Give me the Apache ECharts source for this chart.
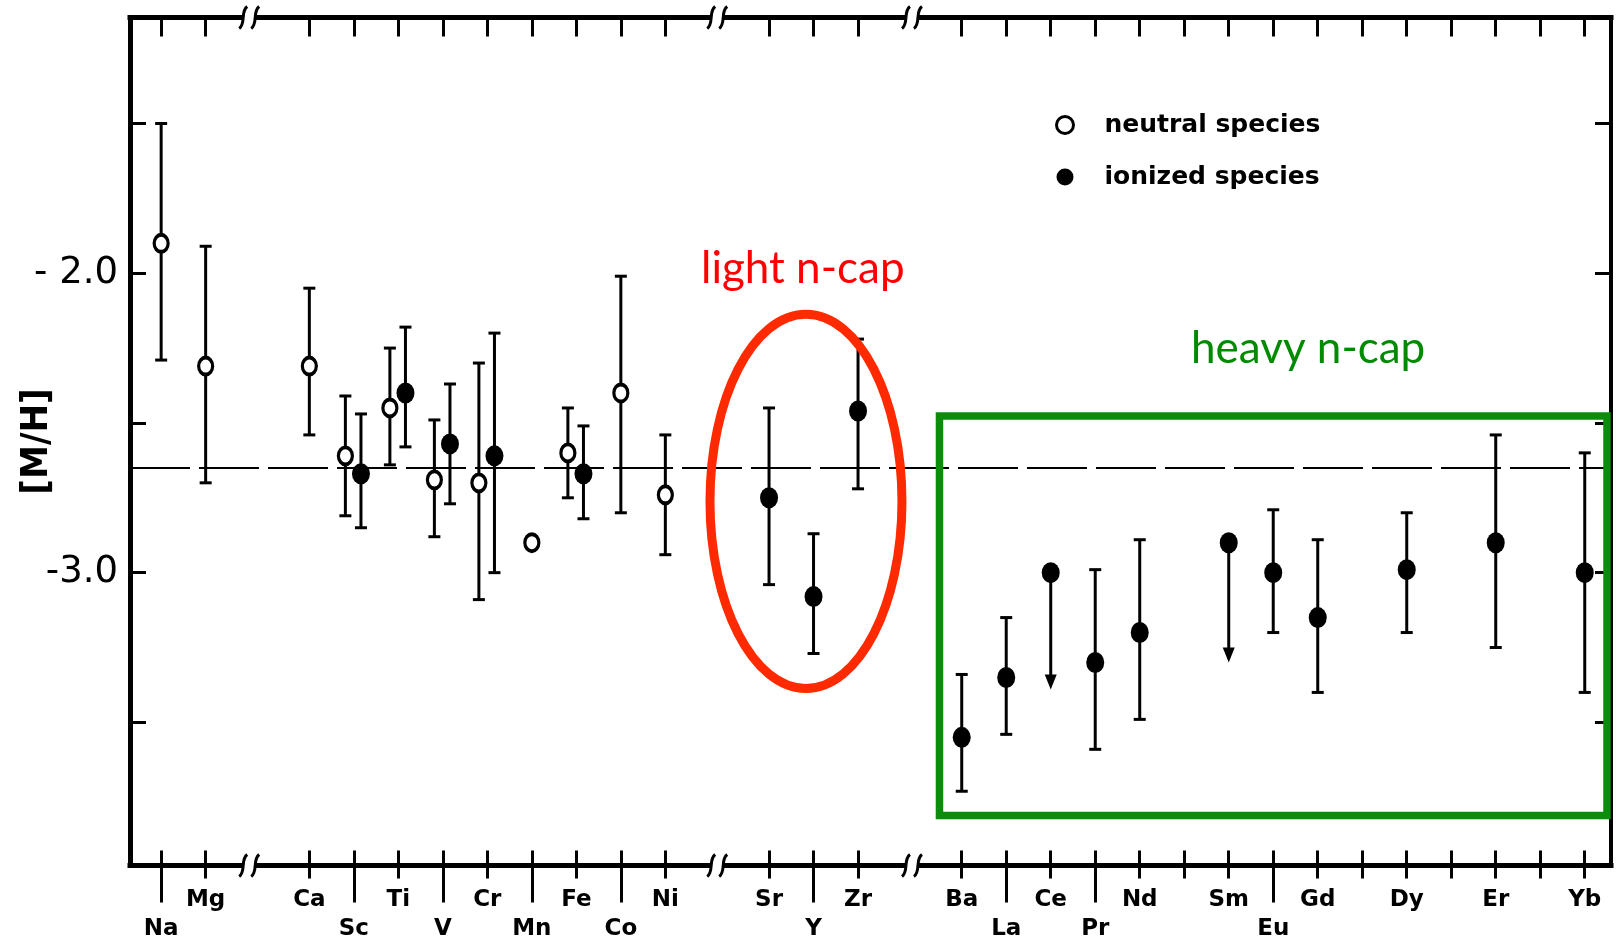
<!DOCTYPE html>
<html>
<head>
<meta charset="utf-8">
<script src="https://cdn.jsdelivr.net/npm/echarts@6/dist/echarts.min.js"></script>
<style>
html,body{margin:0;padding:0;background:#fff;}
#chart{width:1619px;height:943px;}
</style>
</head>
<body>
<div id="chart"></div>
<script>
// ---------------- DATA ----------------
const atomicNumbers = {Na:11, Mg:12, Ca:20, Sc:21, Ti:22, V:23, Cr:24, Mn:25, Fe:26, Co:27, Ni:28,
  Sr:38, Y:39, Zr:40, Ba:56, La:57, Ce:58, Pr:59, Nd:60, Sm:62, Eu:63, Gd:64, Dy:66, Er:68, Yb:70};
// element ranges shown on the broken x axis (atomic number)
const axisSegments = [[11, 12], [20, 28], [38, 40], [56, 70]];

// tick labels: upper row and lower row
const tickLabelsUpper = ['Mg','Ca','Ti','Cr','Fe','Ni','Sr','Zr','Ba','Ce','Nd','Sm','Gd','Dy','Er','Yb'];
const tickLabelsLower = ['Na','Sc','V','Mn','Co','Y','La','Pr','Eu'];

// neutral species  [M/H] with error bar limits
const neutralSpecies = ['Na','Mg','Ca','Sc','Ti','V','Cr','Mn','Fe','Co','Ni'];
const neutralValues  = [-1.90,-2.31,-2.31,-2.61,-2.45,-2.69,-2.70,-2.90,-2.60,-2.40,-2.74];
const neutralLow     = [-2.29,-2.70,-2.54,-2.81,-2.64,-2.88,-3.09, null,-2.75,-2.80,-2.94];
const neutralHigh    = [-1.50,-1.91,-2.05,-2.41,-2.25,-2.49,-2.30, null,-2.45,-2.01,-2.54];

// ionized species
const ionizedSpecies = ['Sc','Ti','V','Cr','Fe','Sr','Y','Zr','Ba','La','Ce','Pr','Nd','Sm','Eu','Gd','Dy','Er','Yb'];
const ionizedValues  = [-2.67,-2.40,-2.57,-2.61,-2.67,-2.75,-3.08,-2.46,-3.55,-3.35,-3.00,-3.30,-3.20,-2.90,-3.00,-3.15,-2.99,-2.90,-3.00];
const ionizedLow     = [-2.85,-2.58,-2.77,-3.00,-2.82,-3.04,-3.27,-2.72,-3.73,-3.54,-3.39,-3.59,-3.49,-3.30,-3.20,-3.40,-3.20,-3.25,-3.40];
const ionizedHigh    = [-2.47,-2.18,-2.37,-2.20,-2.51,-2.45,-2.87,-2.22,-3.34,-3.15, null,-2.99,-2.89, null,-2.79,-2.89,-2.80,-2.54,-2.60];
const ionizedUpperLimit = ['Ce','Sm'];   // plotted as upper limits (arrows)

const referenceLevel = -2.65;
const yTickValues  = [-3.5, -3.0, -2.5, -2.0, -1.5];
const yLabelValues = [-3.0, -2.0];
const yLabelText   = {'-3': '-3.0', '-2': '- 2.0'};

// ---------------- AXIS MAPPING (broken axis) ----------------
const BREAK_SLOTS = 2.33;            // width of each axis break, in element slots
const BREAK_FRACTION = [0.42, 0.5, 0.52];
const X_MIN = -0.7, X_MAX = 32.58, Y_MIN = -3.978, Y_MAX = -1.146;
const PAIR_SHIFT_NEUTRAL = -0.19, PAIR_SHIFT_IONIZED = 0.16;

function slotOf(z) {
  let s = 0;
  for (const [a, b] of axisSegments) {
    if (z >= a && z <= b) return s + (z - a);
    s += (b - a) + BREAK_SLOTS;
  }
  return NaN;
}
const allTickSlots = [];
axisSegments.forEach(([a, b]) => { for (let z = a; z <= b; z++) allTickSlots.push(slotOf(z)); });
const breakSlots = [];
{
  let s = 0;
  axisSegments.forEach(([a, b], i) => {
    s += (b - a);
    if (i < axisSegments.length - 1) { breakSlots.push(s + BREAK_FRACTION[i] * BREAK_SLOTS); s += BREAK_SLOTS; }
  });
}
const slotLabel = {};
Object.keys(atomicNumbers).forEach(k => { slotLabel[slotOf(atomicNumbers[k]).toFixed(3)] = k; });
const upperSlots = tickLabelsUpper.map(s => slotOf(atomicNumbers[s]));
const lowerSlots = tickLabelsLower.map(s => slotOf(atomicNumbers[s]));

function xFor(sp, shift) {
  const paired = neutralSpecies.includes(sp) && ionizedSpecies.includes(sp);
  return slotOf(atomicNumbers[sp]) + (paired ? shift : 0);
}
const neutralPoints = neutralSpecies.map((sp, i) => [xFor(sp, PAIR_SHIFT_NEUTRAL), neutralValues[i]]);
const ionizedPoints = ionizedSpecies.map((sp, i) => [xFor(sp, PAIR_SHIFT_IONIZED), ionizedValues[i]]);
const errorData = [];
neutralSpecies.forEach((sp, i) => {
  if (neutralLow[i] !== null) errorData.push([xFor(sp, PAIR_SHIFT_NEUTRAL), neutralValues[i], neutralLow[i], neutralHigh[i], 0]);
});
ionizedSpecies.forEach((sp, i) => {
  const lim = ionizedUpperLimit.includes(sp) ? 1 : 0;
  errorData.push([xFor(sp, PAIR_SHIFT_IONIZED), ionizedValues[i], ionizedLow[i], lim ? ionizedLow[i] : ionizedHigh[i], lim]);
});

// ---------------- CHART ----------------
const chart = echarts.init(document.getElementById('chart'));
const FONT = 'DejaVu Sans';
const axisLineStyle = {color: '#000', width: 5, cap: 'square'};
const tickStyle = {color: '#000', width: 3};
const baseX = {type: 'value', min: X_MIN, max: X_MAX, gridIndex: 0, splitLine: {show: false}, axisLine: {onZero: false, show: false}};

const option = {
  animation: false,
  backgroundColor: '#fff',
  grid: {left: 130, right: 8, top: 17.5, bottom: 77.5, containLabel: false, outerBoundsMode: 'none'},
  legend: {
    orient: 'vertical', left: 1050, top: 106, itemWidth: 17, itemHeight: 20, itemGap: 24,
    selectedMode: false,
    textStyle: {fontFamily: FONT, fontWeight: 'bold', fontSize: 25, color: '#000', lineHeight: 28, padding: [0, 0, 0, 26]},
    data: [
      {name: 'neutral species', icon: 'circle', itemStyle: {color: '#fff', borderColor: '#000', borderWidth: 3}},
      {name: 'ionized species', icon: 'circle', itemStyle: {color: '#000', borderWidth: 0}}
    ]
  },
  xAxis: [
    Object.assign({}, baseX, {
      position: 'bottom',
      axisLine: {show: true, onZero: false, lineStyle: axisLineStyle},
      axisTick: {show: true, inside: false, length: 13, lineStyle: tickStyle, customValues: allTickSlots},
      axisLabel: {show: true, customValues: upperSlots, margin: 23, fontFamily: FONT, fontWeight: 'bold', fontSize: 23, color: '#000', lineHeight: 24,
        formatter: v => slotLabel[Number(v).toFixed(3)] || ''}
    }),
    Object.assign({}, baseX, {
      position: 'bottom',
      axisTick: {show: true, inside: true, length: 15, lineStyle: tickStyle, customValues: allTickSlots},
      axisLabel: {show: false}
    }),
    Object.assign({}, baseX, {
      position: 'bottom',
      axisTick: {show: true, inside: false, length: 37, lineStyle: tickStyle, customValues: lowerSlots},
      axisLabel: {show: true, customValues: lowerSlots, margin: 52, fontFamily: FONT, fontWeight: 'bold', fontSize: 23, color: '#000', lineHeight: 24,
        formatter: v => slotLabel[Number(v).toFixed(3)] || ''}
    }),
    Object.assign({}, baseX, {
      position: 'top',
      axisLine: {show: true, onZero: false, lineStyle: axisLineStyle},
      axisTick: {show: true, inside: true, length: 19, lineStyle: tickStyle, customValues: allTickSlots},
      axisLabel: {show: false}
    })
  ],
  yAxis: [
    {
      type: 'value', min: Y_MIN, max: Y_MAX, position: 'left', splitLine: {show: false},
      name: '[M/H]', nameLocation: 'middle', nameRotate: 90, nameGap: 74, nameMoveOverlap: false,
      nameTextStyle: {fontFamily: "'DejaVu Sans Condensed', 'DejaVu Sans'", fontWeight: 'bold', fontSize: 38, color: '#000'},
      axisLine: {show: true, onZero: false, lineStyle: axisLineStyle},
      axisTick: {show: true, inside: true, length: 16, lineStyle: tickStyle, customValues: yTickValues},
      axisLabel: {show: true, customValues: yLabelValues, margin: 12, fontFamily: FONT, fontSize: 37, color: '#000',
        formatter: v => yLabelText[String(Math.round(v))] || ''}
    },
    {
      type: 'value', min: Y_MIN, max: Y_MAX, position: 'right', splitLine: {show: false},
      axisLine: {show: true, onZero: false, lineStyle: {color: '#000', width: 4, cap: 'square'}},
      axisTick: {show: true, inside: true, length: 16, lineStyle: tickStyle, customValues: yTickValues},
      axisLabel: {show: false}
    }
  ],
  series: [
    {
      name: 'error bars', type: 'custom', xAxisIndex: 0, yAxisIndex: 0, z: 1, silent: true,
      data: errorData,
      renderItem: (params, api) => {
        const x = api.value(0), v = api.value(1), lo = api.value(2), hi = api.value(3), lim = api.value(4);
        const p = api.coord([x, v]);
        const st = {stroke: '#000', lineWidth: 3};
        const ch = [];
        if (lim) {
          const t = api.coord([x, lo]);
          ch.push({type: 'line', shape: {x1: p[0], y1: p[1], x2: p[0], y2: t[1] - 8}, style: st});
          ch.push({type: 'polygon', shape: {points: [[p[0] - 6, t[1] - 15], [p[0] + 6, t[1] - 15], [p[0], t[1]]]}, style: {fill: '#000'}});
        } else {
          const a = api.coord([x, lo]), b = api.coord([x, hi]);
          ch.push({type: 'line', shape: {x1: a[0], y1: a[1], x2: b[0], y2: b[1]}, style: st});
          ch.push({type: 'line', shape: {x1: a[0] - 6, y1: a[1], x2: a[0] + 6, y2: a[1]}, style: st});
          ch.push({type: 'line', shape: {x1: b[0] - 6, y1: b[1], x2: b[0] + 6, y2: b[1]}, style: st});
        }
        return {type: 'group', children: ch};
      }
    },
    {
      name: 'neutral species', type: 'scatter', xAxisIndex: 0, yAxisIndex: 0, z: 3,
      symbol: 'circle', symbolSize: [14, 17],
      itemStyle: {color: '#fff', borderColor: '#000', borderWidth: 3.5, opacity: 1},
      data: neutralPoints,
      markLine: {
        silent: true, symbol: ['none', 'none'], label: {show: false}, z: 0,
        lineStyle: {color: '#000', width: 2, type: [60, 9]},
        data: [{yAxis: referenceLevel}]
      }
    },
    {
      name: 'ionized species', type: 'scatter', xAxisIndex: 0, yAxisIndex: 0, z: 3,
      symbol: 'circle', symbolSize: [18, 21],
      itemStyle: {color: '#000', opacity: 1},
      data: ionizedPoints
    }
  ]
};
chart.setOption(option);

// ---------------- DECORATIONS: axis breaks + annotations ----------------
function px(x, y) { return chart.convertToPixel({xAxisIndex: 0, yAxisIndex: 0}, [x, y]); }
const g = [];
const yBottom = px(0, Y_MIN)[1], yTop = px(0, Y_MAX)[1];
breakSlots.forEach(b => {
  const cx = px(b, Y_MIN)[0];
  [yBottom, yTop].forEach(ay => {
    g.push({type: 'rect', z: 100, shape: {x: cx - 6, y: ay - 5, width: 12, height: 10}, style: {fill: '#fff'}});
    [cx - 6, cx + 6].forEach(mx => {
      g.push({type: 'bezierCurve', z: 101,
        shape: {x1: mx + 4, y1: ay - 11, cpx1: mx - 3, cpy1: ay - 6, cpx2: mx + 3, cpy2: ay + 6, x2: mx - 4, y2: ay + 11},
        style: {stroke: '#000', lineWidth: 3, fill: null}});
    });
  });
});
// red ellipse around light n-capture elements
const eC = px(14.49, -2.762), eR = px(14.49 + 2.157, -2.762 - 0.6246);
g.push({type: 'ellipse', z: 110, shape: {cx: eC[0], cy: eC[1], rx: eR[0] - eC[0], ry: eR[1] - eC[1]},
  style: {stroke: '#ff2a00', lineWidth: 9, fill: null}});
// green box around heavy n-capture elements
const r0 = px(17.49, -2.4766), r1 = px(32.49, -3.811);
g.push({type: 'rect', z: 110, shape: {x: r0[0], y: r0[1], width: r1[0] - r0[0], height: r1[1] - r0[1]},
  style: {stroke: '#0b8c0b', lineWidth: 7.5, fill: null}});
g.push({type: 'text', z: 110, x: 701, y: 269,
  style: {text: 'light n-cap', fill: '#ff0000', font: '44px Lato', verticalAlign: 'middle', align: 'left'}});
g.push({type: 'text', z: 110, x: 1191, y: 349,
  style: {text: 'heavy n-cap', fill: '#008a00', font: '44px Lato', verticalAlign: 'middle', align: 'left'}});
chart.setOption({graphic: {elements: g}});
</script>
</body>
</html>
